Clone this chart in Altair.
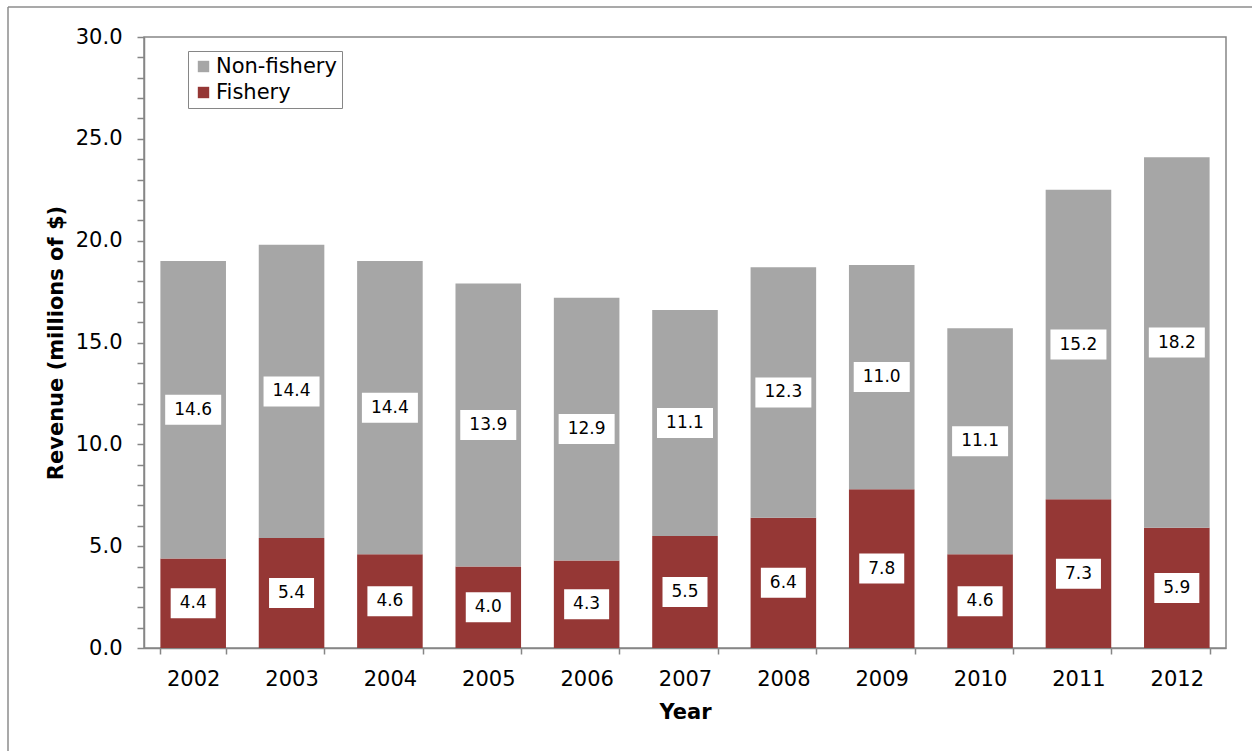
import altair as alt
import pandas as pd

# Annual revenue, millions of dollars
years = ["2002", "2003", "2004", "2005", "2006", "2007", "2008", "2009", "2010", "2011", "2012"]
fishery = [4.4, 5.4, 4.6, 4.0, 4.3, 5.5, 6.4, 7.8, 4.6, 7.3, 5.9]
non_fishery = [14.6, 14.4, 14.4, 13.9, 12.9, 11.1, 12.3, 11.0, 11.1, 15.2, 18.2]

series = ["Non-fishery", "Fishery"]
series_colors = ["#A6A6A6", "#953735"]

rows = []
for yr, f, nf in zip(years, fishery, non_fishery):
    rows.append({"Year": yr, "Source": "Fishery", "Revenue": f, "ord": 0,
                 "mid": f / 2, "label": f"{f:.1f}"})
    rows.append({"Year": yr, "Source": "Non-fishery", "Revenue": nf, "ord": 1,
                 "mid": f + nf / 2, "label": f"{nf:.1f}"})
df = pd.DataFrame(rows)
df["wide"] = df["label"].str.len() > 3

FONT = "DejaVu Sans"
GRAY = "#868686"
W, H = 1082, 611

y_scale = alt.Scale(domain=[0, 30], nice=False)

x_axis = alt.Axis(
    title="Year", labelAngle=0, tickBand="extent", tickSize=6,
    labelBaseline="alphabetic", labelPadding=31,
    titleBaseline="alphabetic", titleY=70,
)
x_enc = alt.X(
    "Year:N",
    sort=years,
    scale=alt.Scale(paddingInner=1 / 3, paddingOuter=1 / 6),
    axis=x_axis,
)

y_axis = alt.Axis(
    title="Revenue (millions of $)",
    values=list(range(0, 31)),
    labelExpr="datum.value % 5 == 0 ? format(datum.value, '.1f') : ''",
    labelOverlap=False,
    tickSize=7, labelPadding=15, grid=False,
    titleX=-82, titleY=H / 2, titleAngle=270, titleAlign="center",
    titleBaseline="alphabetic",
)

bars = alt.Chart(df).mark_bar().encode(
    x=x_enc,
    y=alt.Y("sum(Revenue):Q", stack="zero", scale=y_scale, axis=y_axis),
    color=alt.Color(
        "Source:N",
        scale=alt.Scale(domain=series, range=series_colors),
        legend=alt.Legend(
            title=None, orient="none", legendX=44, legendY=14,
            symbolType="square", symbolSize=130, symbolStrokeWidth=0,
            labelFontSize=21, labelFont=FONT, labelColor="black",
            labelOffset=2, rowPadding=4, padding=5,
            strokeColor=GRAY, fillColor="white",
        ),
    ),
    order=alt.Order("ord:Q"),
)

mid_y = alt.Y("mid:Q", scale=y_scale, axis=y_axis)

box_narrow = alt.Chart(df).transform_filter("!datum.wide").mark_rect(
    width=45, height=30, color="white"
).encode(x=x_enc, y=mid_y)

box_wide = alt.Chart(df).transform_filter("datum.wide").mark_rect(
    width=56, height=30, color="white"
).encode(x=x_enc, y=mid_y)

labels = alt.Chart(df).mark_text(
    font=FONT, fontSize=17, color="black", baseline="middle", align="center"
).encode(x=x_enc, y=mid_y, text="label:N")

# outer frame of the chart area (top and left edges)
frame_src = alt.Chart(pd.DataFrame({"k": [0]}))
frame_top = frame_src.mark_rule(color="#8C8C8C", strokeWidth=1.5).encode(
    x=alt.value(-136), x2=alt.value(1108), y=alt.value(-30)
)
frame_left = frame_src.mark_rule(color="#8C8C8C", strokeWidth=1.5).encode(
    x=alt.value(-136), y=alt.value(-30), y2=alt.value(714)
)

chart = alt.layer(
    bars, box_narrow, box_wide, labels, frame_top, frame_left
).properties(
    width=W, height=H,
    autosize=alt.AutoSizeParams(type="none"),
    padding={"left": 144, "top": 37, "right": 26, "bottom": 103},
    background="white",
).configure_view(
    stroke=GRAY, strokeWidth=1.5
).configure_axis(
    labelFont=FONT, labelFontSize=21, labelColor="black",
    titleFont=FONT, titleFontSize=21, titleFontWeight="bold", titleColor="black",
    domainColor=GRAY, domainWidth=1.5, tickColor=GRAY, tickWidth=1.5,
    labelOverlap=False,
)

chart.save("out.html", embed_options={"renderer": "svg", "actions": False})
